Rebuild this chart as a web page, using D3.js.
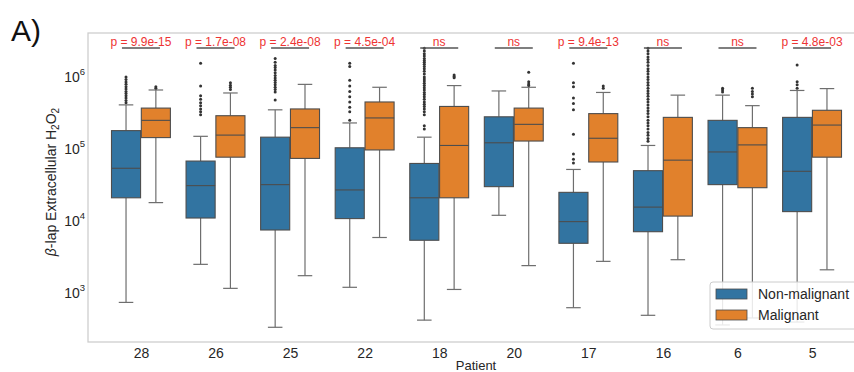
<!DOCTYPE html>
<html>
<head>
<meta charset="utf-8">
<script src="https://cdn.jsdelivr.net/npm/d3@7"></script>
<style>
  body { margin: 0; background: #fff; }
  text { font-family: "Liberation Sans", Arial, sans-serif; }
</style>
</head>
<body>
<div id="chart"></div>
<script>
// patients in plotting order and the test result shown above each pair
const patients = ["28", "26", "25", "22", "18", "20", "17", "16", "6", "5"];
const pLabels = ["p = 9.9e-15", "p = 1.7e-08", "p = 2.4e-08", "p = 4.5e-04", "ns",
                 "ns", "p = 9.4e-13", "ns", "ns", "p = 4.8e-03"];
const seriesNames = ["Non-malignant", "Malignant"];

// non-malignant box stats
const nmLow  = [740, 2.5e3, 334, 1.2e3, 420, 1.2e4, 625, 490, 360, 395];
const nmQ1   = [2.1e4, 1.1e4, 7.5e3, 1.08e4, 5.4e3, 3.0e4, 4.9e3, 7.1e3, 3.2e4, 1.35e4];
const nmMed  = [5.4e4, 3.1e4, 3.2e4, 2.7e4, 2.1e4, 1.22e5, 9.8e3, 1.56e4, 9.1e4, 4.9e4];
const nmQ3   = [1.8e5, 6.8e4, 1.46e5, 1.04e5, 6.3e4, 2.8e5, 2.5e4, 5.0e4, 2.5e5, 2.75e5];
const nmHigh = [4.1e5, 1.5e5, 3.5e5, 2.3e5, 1.46e5, 6.4e5, 5.2e4, 1.12e5, 5.6e5, 6.5e5];

// malignant box stats
const mLow  = [1.8e4, 1.16e3, 1.74e3, 5.9e3, 1.12e3, 2.4e3, 2.75e3, 2.9e3, 450, 2.1e3];
const mQ1   = [1.44e5, 7.7e4, 7.4e4, 9.7e4, 2.1e4, 1.29e5, 6.6e4, 1.17e4, 2.9e4, 7.7e4];
const mMed  = [2.5e5, 1.56e5, 1.98e5, 2.7e5, 1.12e5, 2.2e5, 1.41e5, 7.0e4, 1.14e5, 2.15e5];
const mQ3   = [3.7e5, 2.9e5, 3.6e5, 4.5e5, 3.9e5, 3.7e5, 3.1e5, 2.75e5, 1.98e5, 3.45e5];
const mHigh = [6.6e5, 6.0e5, 7.9e5, 7.2e5, 7.6e5, 7.2e5, 6.1e5, 5.6e5, 4.0e5, 6.9e5];

// outliers
const nmOutliers = [
  [1.0e6, 9.2e5, 8.5e5, 7.9e5, 7.3e5, 6.8e5, 6.3e5, 5.9e5, 5.5e5, 5.1e5, 4.7e5, 4.4e5],
  [1.55e6, 7.5e5, 5.5e5, 4.9e5, 4.4e5, 4.0e5, 3.6e5, 3.3e5, 3.0e5],
  [1.8e6, 1.6e6, 1.45e6, 1.35e6, 1.25e6, 1.15e6, 1.05e6, 9.7e5, 9.0e5, 8.4e5, 7.8e5, 7.2e5,
   6.7e5, 6.2e5, 4.8e5],
  [1.55e6, 1.4e6, 9.0e5, 7.5e5, 6.3e5, 5.3e5, 4.5e5, 3.8e5, 3.3e5, 2.5e5],
  [2.5e6, 2.3e6, 2.1e6, 1.95e6, 1.8e6, 1.7e6, 1.6e6, 1.5e6, 1.4e6, 1.3e6, 1.2e6, 1.1e6,
   1.0e6, 9.4e5, 8.8e5, 8.2e5, 7.6e5, 7.1e5, 6.6e5, 6.1e5, 5.7e5, 5.3e5, 4.9e5, 4.5e5,
   4.2e5, 3.9e5, 3.6e5, 3.3e5, 3.0e5, 2.1e5, 1.9e5],
  [],
  [1.55e6, 8.3e5, 7.3e5, 5.1e5, 4.3e5, 3.5e5, 1.6e5, 8.5e4, 7.2e4, 6.4e4],
  [2.5e6, 2.3e6, 2.1e6, 1.9e6, 1.75e6, 1.6e6, 1.45e6, 1.3e6, 1.2e6, 1.1e6, 1.0e6, 9.2e5,
   8.4e5, 7.7e5, 7.0e5, 6.4e5, 5.9e5, 5.4e5, 4.9e5, 4.5e5, 4.1e5, 3.7e5, 3.4e5, 3.1e5,
   2.8e5, 2.5e5, 2.3e5, 2.1e5, 1.9e5, 1.7e5, 1.55e5, 1.4e5, 1.28e5],
  [7.0e5, 6.6e5, 6.2e5],
  [1.47e6, 8.6e5, 7.8e5, 7.0e5]
];
const mOutliers = [
  [7.0e5, 7.3e5],
  [8.3e5, 7.7e5, 7.2e5, 6.7e5],
  [],
  [],
  [1.07e6, 1.02e6, 9.8e5],
  [1.16e6, 8.6e5, 8.0e5, 7.6e5],
  [7.5e5, 7.0e5],
  [],
  [7.0e5, 6.3e5, 5.8e5, 5.3e5],
  []
];

const colors = ["#3274a1", "#e1812c"];
const lineColor = "#4d4d4d";
const whiskerColor = "#6e6e6e";
const textColor = "#262626";

const svgWidth = 854;
const svgHeight = 372;
const plot = { left: 88, right: 865, top: 33, bottom: 342 };

const svg = d3.select("#chart").append("svg")
    .attr("width", svgWidth)
    .attr("height", svgHeight);

// x: category index, axis padded like the source figure
const xScale = d3.scaleLinear()
    .domain([-0.71, 9.71])
    .range([plot.left, plot.right]);

// y: log scale, decades placed where the source draws them
const yScale = d3.scaleLog()
    .domain([1e3, 1e6])
    .range([293, 77]);

const band = xScale(1) - xScale(0);
const boxW = band * 0.39;
const offset = band * 0.2;

// frame (spines)
svg.append("rect")
    .attr("x", plot.left)
    .attr("y", plot.top)
    .attr("width", plot.right - plot.left)
    .attr("height", plot.bottom - plot.top)
    .style("fill", "none")
    .style("stroke", "#cccccc")
    .style("stroke-width", 1.25);

// boxes
const groups = [
  { low: nmLow, q1: nmQ1, med: nmMed, q3: nmQ3, high: nmHigh, out: nmOutliers },
  { low: mLow, q1: mQ1, med: mMed, q3: mQ3, high: mHigh, out: mOutliers }
];

groups.forEach(function (g, s) {
  const sign = s == 0 ? -1 : 1;
  patients.forEach(function (p, i) {
    const cx = xScale(i) + sign * offset;
    const gg = svg.append("g");

    // whiskers
    gg.append("line")
        .attr("x1", cx).attr("x2", cx)
        .attr("y1", yScale(g.low[i])).attr("y2", yScale(g.q1[i]))
        .attr("stroke", whiskerColor).attr("stroke-width", 1.2);
    gg.append("line")
        .attr("x1", cx).attr("x2", cx)
        .attr("y1", yScale(g.q3[i])).attr("y2", yScale(g.high[i]))
        .attr("stroke", whiskerColor).attr("stroke-width", 1.2);
    [g.low[i], g.high[i]].forEach(function (v) {
      gg.append("line")
          .attr("x1", cx - boxW / 4).attr("x2", cx + boxW / 4)
          .attr("y1", yScale(v)).attr("y2", yScale(v))
          .attr("stroke", whiskerColor).attr("stroke-width", 1.2);
    });

    // box
    gg.append("rect")
        .attr("x", cx - boxW / 2)
        .attr("y", yScale(g.q3[i]))
        .attr("width", boxW)
        .attr("height", yScale(g.q1[i]) - yScale(g.q3[i]))
        .attr("fill", colors[s])
        .attr("stroke", lineColor)
        .attr("stroke-width", 1.1);

    // median
    gg.append("line")
        .attr("x1", cx - boxW / 2).attr("x2", cx + boxW / 2)
        .attr("y1", yScale(g.med[i])).attr("y2", yScale(g.med[i]))
        .attr("stroke", lineColor).attr("stroke-width", 1.1);

    // fliers
    gg.selectAll("circle")
        .data(g.out[i])
        .enter().append("circle")
        .attr("cx", cx)
        .attr("cy", function (d) { return yScale(d); })
        .attr("r", 1.5)
        .attr("fill", "#333");
  });
});

// x axis labels
const xAxis = d3.axisBottom(xScale)
    .tickValues(d3.range(patients.length))
    .tickFormat(function (i) { return patients[i]; })
    .tickSize(0)
    .tickPadding(6);

const xg = svg.append("g")
    .attr("transform", "translate(0," + plot.bottom + ")")
    .call(xAxis);
xg.select(".domain").remove();
xg.selectAll("text")
    .style("font-size", "14px")
    .style("fill", textColor)
    .style("font-family", "'Liberation Sans', Arial, sans-serif");

// y axis labels as 10^n
const yTicks = [1e3, 1e4, 1e5, 1e6];
yTicks.forEach(function (v) {
  const t = svg.append("text")
      .attr("x", plot.left - 3)
      .attr("y", yScale(v) + 5)
      .attr("text-anchor", "end")
      .style("font-size", "14px")
      .style("fill", textColor);
  t.append("tspan").text("10");
  t.append("tspan")
      .attr("dy", -7)
      .style("font-size", "9.5px")
      .text(Math.round(Math.log10(v)));
});

// axis titles
svg.append("text")
    .attr("x", 476)
    .attr("y", 370)
    .attr("text-anchor", "middle")
    .style("font-size", "13px")
    .style("fill", textColor)
    .text("Patient");

const yl = svg.append("text")
    .attr("transform", "translate(56,182) rotate(-90)")
    .attr("text-anchor", "middle")
    .style("font-size", "14px")
    .style("fill", textColor);
yl.append("tspan").style("font-style", "italic").text("β");
yl.append("tspan").text("-lap Extracellular H");
yl.append("tspan").attr("dy", 3).style("font-size", "10px").text("2");
yl.append("tspan").attr("dy", -3).text("O");
yl.append("tspan").attr("dy", 3).style("font-size", "10px").text("2");

// significance annotations
patients.forEach(function (p, i) {
  svg.append("line")
      .attr("x1", xScale(i) - 19).attr("x2", xScale(i) + 19)
      .attr("y1", 48).attr("y2", 48)
      .attr("stroke", "#555").attr("stroke-width", 1.4);
  svg.append("text")
      .attr("x", xScale(i))
      .attr("y", 46)
      .attr("text-anchor", "middle")
      .style("font-size", "12px")
      .style("fill", "#ee3333")
      .text(pLabels[i]);
});

// legend
const lg = svg.append("g").attr("transform", "translate(710,282)");
lg.append("rect")
    .attr("width", 152).attr("height", 47).attr("rx", 3)
    .style("fill", "#fff").style("fill-opacity", 0.85)
    .style("stroke", "#cccccc");
seriesNames.forEach(function (name, s) {
  lg.append("rect")
      .attr("x", 6).attr("y", 7 + s * 21)
      .attr("width", 31).attr("height", 10)
      .attr("fill", colors[s])
      .attr("stroke", lineColor).attr("stroke-width", 0.8);
  lg.append("text")
      .attr("x", 48).attr("y", 17 + s * 21)
      .style("font-size", "14px")
      .style("fill", textColor)
      .text(name);
});

// panel letter
svg.append("text")
    .attr("x", 11)
    .attr("y", 41)
    .style("font-size", "30px")
    .style("fill", "#111")
    .text("A)");
</script>
</body>
</html>
